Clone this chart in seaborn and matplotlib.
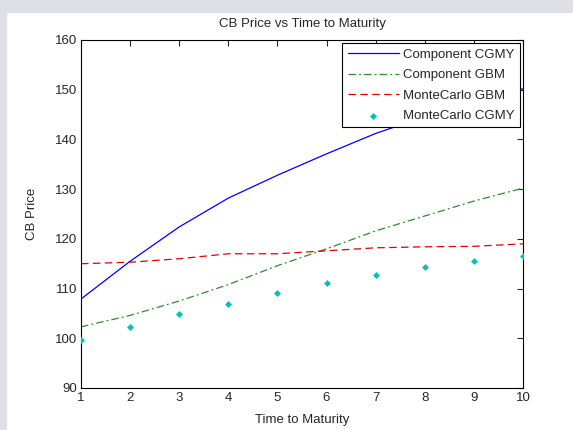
import numpy as np
import pandas as pd
import matplotlib
matplotlib.use("Agg")
import matplotlib.pyplot as plt
import seaborn as sns
from matplotlib.patches import Rectangle

# values
maturity = [1, 2, 3, 4, 5, 6, 7, 8, 9, 10]
comp_cgmy = [107.9, 115.5, 122.4, 128.2, 132.8, 137.1, 141.2, 144.6, 147.5, 150.2]
comp_gbm = [102.3, 104.6, 107.5, 110.8, 114.6, 118.0, 121.6, 124.6, 127.6, 130.2]
mc_gbm = [115.0, 115.3, 116.0, 117.0, 117.0, 117.6, 118.2, 118.4, 118.5, 119.0]
mc_cgmy = [99.6, 102.2, 104.9, 106.9, 109.1, 111.1, 112.7, 114.4, 115.5, 116.5]

sns.set_style("white")
plt.rcParams['font.family'] = ['Liberation Sans', 'DejaVu Sans']
plt.rcParams['font.size'] = 9.5

df = pd.DataFrame({"T": maturity, "cgmy": comp_cgmy, "gbm": comp_gbm,
                   "mcgbm": mc_gbm, "mccgmy": mc_cgmy})

fig = plt.figure(figsize=(5.73, 4.30), dpi=100)
fig.patches.append(Rectangle((0, 1 - 12 / 430), 1, 12 / 430, transform=fig.transFigure,
                             color="#dde1e5", zorder=0))
fig.patches.append(Rectangle((0, 0), 6 / 573, 1, transform=fig.transFigure,
                             color="#dde1e5", zorder=0))
ax = fig.add_axes([81 / 573, 1 - 388 / 430, (523 - 81) / 573, (388 - 40) / 430])

sns.lineplot(data=df, x="T", y="cgmy", ax=ax, color="#0000ff", lw=0.9, label="Component CGMY")
sns.lineplot(data=df, x="T", y="gbm", ax=ax, color="#2e8b2e", lw=0.9, label="Component GBM")
ax.lines[-1].set_dashes([6, 2.5, 1.5, 2.5])
sns.lineplot(data=df, x="T", y="mcgbm", ax=ax, color="#e00000", lw=0.9, label="MonteCarlo GBM")
ax.lines[-1].set_dashes([6, 3.5])
sns.scatterplot(data=df, x="T", y="mccgmy", ax=ax, color="#00c0c0", marker="D", s=9,
                edgecolor="#00c0c0", linewidth=0.5, label="MonteCarlo CGMY", zorder=5)

ax.set_xlim(1, 10)
ax.set_ylim(90, 160)
ax.set_xticks(range(1, 11))
ax.set_yticks(range(90, 161, 10))
ax.tick_params(direction="in", length=4.5, width=0.8, top=True, right=True, labelsize=9.5, pad=3)
for s in ax.spines.values():
    s.set_color("black")
    s.set_linewidth(0.8)

ax.set_title("CB Price vs Time to Maturity", fontsize=9.5, pad=9)
ax.set_xlabel("Time to Maturity", fontsize=9.5, labelpad=7)
ax.set_ylabel("CB Price", fontsize=9.5, labelpad=12)

leg = ax.legend(loc="upper right", fancybox=False, framealpha=1, edgecolor="black",
                handlelength=3.9, handletextpad=0.3, borderpad=0.4, labelspacing=0.62,
                borderaxespad=0.25, fontsize=9.5)
leg.get_frame().set_linewidth(0.8)

fig.savefig("out.png", dpi=100)
